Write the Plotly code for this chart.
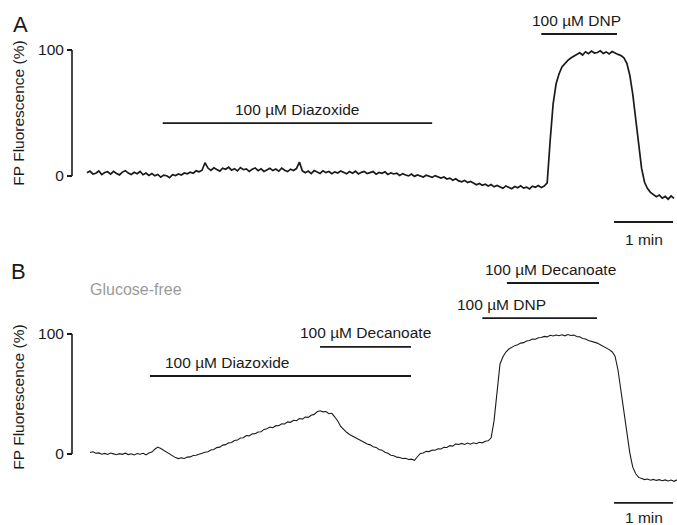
import plotly.graph_objects as go

# ---------------- data ----------------
# Panel A: FP fluorescence (%), sampled every 3 s
valsA = [2.5, 3.9, 1.6, 2.2, 4.0, 1.1, 2.8, 3.4, 1.5, 3.7, 2.0, 0.9, 3.1, 4.2, 2.3, 1.2, 2.9, 1.8, 3.6, 1.0,
         2.4, 0.4, 1.9, 0.1, 1.2, -0.9, 0.7, 0.2, -1.3, 1.0, 0.4, 1.6, 0.8, 2.4, 1.7, 3.0, 2.2, 4.1, 3.3, 4.6,
         10.5, 6.3, 4.4, 6.5, 5.1, 3.9, 6.2, 5.4, 7.0, 4.6, 5.8, 4.0, 6.7, 5.0, 5.6, 3.7, 5.3, 6.4, 4.2, 5.7,
         3.6, 5.0, 6.1, 4.3, 5.5, 3.8, 6.3, 4.6, 3.5, 5.4, 4.4, 5.9, 11.0, 4.1, 2.6, 3.9, 1.9, 4.3, 3.0, 2.0,
         4.2, 2.7, 3.6, 1.8, 3.3, 2.4, 4.0, 3.1, 1.7, 3.5, 2.2, 3.8, 1.6, 2.9, 3.6, 1.9, 2.6, 3.5, 1.4, 2.8,
         2.1, 3.3, 1.2, 2.5, 1.6, 2.2, 0.4, 1.9, 0.8, 0.1, 1.5, -0.3, 0.9, 0.2, -0.8, 0.6, -0.2, -1.1, 0.3, -0.9,
         -1.6, -0.8, -2.4, -1.7, -3.3, -2.2, -3.9, -4.6, -3.5, -5.2, -4.4, -5.6, -6.9, -5.9, -7.4, -6.5, -7.9, -6.8, -8.6, -7.5,
         -8.9, -9.8, -7.9, -8.7, -10.1, -8.4, -9.3, -7.8, -9.6, -8.8, -10.3, -8.1, -9.0, -7.6, -9.2, -8.0, -5.5, 28, 57, 73,
         81, 86.5, 89.5, 91.8, 93.6, 94.8, 96.2, 97.8, 96.0, 98.6, 97.1, 99.2, 97.6, 98.0, 99.4, 97.3, 98.5, 96.9, 98.8, 97.4,
         96.5, 95.6, 93.8, 89.5, 80, 65, 45, 22, 6, -5, -10, -13, -14.8, -16.5, -15.1, -17.6, -16.2, -18.4, -15.9, -17.8]

# Panel B: FP fluorescence (%), sampled every 3 s (glucose-free)
valsB = [1.2, 1.9, 0.6, 0.9, -0.2, 0.5, -0.4, 0.8, 0.1, -0.6, 0.3, -0.3, 0.7, -0.5, 0.2, -0.8, 0.4, -0.2, 0.6, -0.7,
         0.9, 1.6, 4.0, 5.8, 4.6, 3.1, 1.2, -0.3, -1.8, -3.0, -3.8, -3.2, -3.7, -2.6, -2.4, -1.3, -1.0, 0.1, 0.6, 1.5,
         1.9, 3.3, 3.8, 5.3, 5.7, 7.4, 7.8, 9.3, 9.6, 11.2, 11.6, 13.3, 13.5, 15.4, 15.1, 16.8, 16.9, 18.4, 18.6, 20.5,
         21.0, 22.4, 21.9, 23.6, 23.5, 25.2, 25.0, 26.8, 26.4, 28.1, 27.7, 29.6, 29.1, 30.8, 30.5, 32.3, 33.0, 35.2, 36.0, 35.1,
         35.4, 33.6, 33.9, 30.8, 27.5, 23.0, 20.4, 18.1, 16.3, 15.0, 13.2, 12.4, 10.6, 9.9, 8.3, 7.6, 6.1, 5.5, 3.8, 3.2,
         1.5, 0.6, -1.0, -1.4, -2.6, -2.9, -3.8, -3.5, -4.6, -4.3, -5.2, -2.3, 0.5, 0.9, 2.2, 2.0, 3.3, 3.1, 4.4, 4.2,
         5.6, 5.4, 7.0, 6.6, 8.4, 7.9, 8.8, 8.0, 9.1, 8.2, 9.4, 8.6, 9.8, 9.3, 10.6, 11.0, 13.5, 28, 52, 75,
         81, 85, 87.5, 89.0, 90.3, 91.0, 92.4, 92.8, 94.2, 94.6, 95.8, 95.6, 96.9, 97.1, 98.0, 97.6, 98.9, 98.4, 99.2, 98.6,
         99.4, 98.5, 99.6, 98.8, 99.1, 97.9, 97.6, 96.3, 95.9, 94.6, 94.0, 92.9, 92.4, 91.1, 89.9, 88.3, 87.0, 85.2, 81.5, 70,
         52, 33, 15, 1, -11, -16.5, -19.5, -20.6, -21.3, -20.8, -21.9, -21.2, -22.0, -21.4, -22.3, -21.6, -22.5, -21.7, -22.8, -21.5]

dt = 3  # s per sample
tA = [i * dt for i in range(len(valsA))]
tB = [3 + i * dt for i in range(len(valsB))]

# drug application bars: (label, t_start, t_end, level %, label anchor, label t)
barsA = [("100 µM Diazoxide", 77, 351, 42, "center", 214),
         ("100 µM DNP", 462, 539, 112.7, "center", 498)]
barsB = [("100 µM Diazoxide", 64, 329.5, 65, "left", 77),
         ("100 µM Decanoate", 237, 329.5, 89.2, "center", 283),
         ("100 µM DNP", 402, 518.6, 113.3, "left", 374),
         ("100 µM Decanoate", 427, 520.7, 142.5, "center", 471)]
scale_min = (536, 596)  # 1 min scale bar
scaleA_level, scaleB_level = -36.5, -40.8

yticks = [0, 100]
ytitle = "FP Fluorescence (%)"

# ---------------- figure ----------------
FONT = "Arial, Liberation Sans, Helvetica, sans-serif"
INK = "#1a1a1a"
W, H = 677, 525
axis_pos = 72 / W
FS = 15.5

# panel A occupies pixel rows 0..226, panel B rows 269..525
domA = [1 - 226 / H, 1]
domB = [0, 1 - 269 / H]
rangeA = [(176 - 226) / 1.26, 176 / 1.26]
rangeB = [(454 - 525) / 1.2, (454 - 269) / 1.2]

fig = go.Figure()
fig.add_trace(go.Scatter(x=tA, y=valsA, mode="lines", xaxis="x", yaxis="y",
                         line=dict(color=INK, width=1.7), showlegend=False, hoverinfo="skip"))
fig.add_trace(go.Scatter(x=tB, y=valsB, mode="lines", xaxis="x", yaxis="y2",
                         line=dict(color=INK, width=1.1), showlegend=False, hoverinfo="skip"))

shapes = []
annotations = []
TXT = dict(family=FONT, size=FS, color=INK)


def add_bar(yref, label, t0, t1, lvl, anchor, tl):
    shapes.append(dict(type="line", xref="x", yref=yref, x0=t0, x1=t1, y0=lvl, y1=lvl,
                       line=dict(color=INK, width=1.8)))
    annotations.append(dict(xref="x", yref=yref, x=tl, y=lvl, text=label, showarrow=False,
                            xanchor=anchor, yanchor="middle", yshift=14, font=TXT))


for b in barsA:
    add_bar("y", *b)
for b in barsB:
    add_bar("y2", *b)

for yref, lvl, shift in (("y", scaleA_level, -18), ("y2", scaleB_level, -15)):
    shapes.append(dict(type="line", xref="x", yref=yref, x0=scale_min[0], x1=scale_min[1],
                       y0=lvl, y1=lvl, line=dict(color=INK, width=1.8)))
    annotations.append(dict(xref="x", yref=yref, x=(scale_min[0] + scale_min[1]) / 2, y=lvl,
                            text="1 min", showarrow=False, xanchor="center", yanchor="middle",
                            yshift=shift, font=TXT))

# y axis lines spanning 0..100 only
for yref in ("y", "y2"):
    shapes.append(dict(type="line", xref="paper", yref=yref, x0=axis_pos, x1=axis_pos,
                       y0=yticks[0], y1=yticks[-1], line=dict(color=INK, width=1.6)))

# panel letters and condition label
annotations.append(dict(xref="paper", yref="paper", x=20 / W, y=1 - 24.5 / H, text="A",
                        xanchor="center", yanchor="middle", showarrow=False,
                        font=dict(family=FONT, size=22, color=INK)))
annotations.append(dict(xref="paper", yref="paper", x=18.5 / W, y=1 - 271.5 / H, text="B",
                        xanchor="center", yanchor="middle", showarrow=False,
                        font=dict(family=FONT, size=22, color=INK)))
annotations.append(dict(xref="paper", yref="paper", x=136 / W, y=1 - 289 / H, text="Glucose-free",
                        xanchor="center", yanchor="middle", showarrow=False,
                        font=dict(family=FONT, size=16, color="#9a9a9a")))

yax = dict(anchor="free", position=axis_pos, tickvals=yticks, ticks="outside", ticklen=5,
           tickwidth=1.5, tickcolor=INK, showline=False, showgrid=False, zeroline=False,
           tickfont=dict(family=FONT, size=FS, color=INK),
           title=dict(text=ytitle, font=dict(family=FONT, size=FS, color=INK), standoff=8))

fig.update_layout(
    width=W, height=H, margin=dict(l=0, r=0, t=0, b=0),
    paper_bgcolor="white", plot_bgcolor="white",
    xaxis=dict(domain=[0, 1], range=[-88.47, 600], visible=False),
    yaxis=dict(domain=domA, range=rangeA, **yax),
    yaxis2=dict(domain=domB, range=rangeB, **yax),
    shapes=shapes, annotations=annotations,
)

fig.write_html("out.html")
